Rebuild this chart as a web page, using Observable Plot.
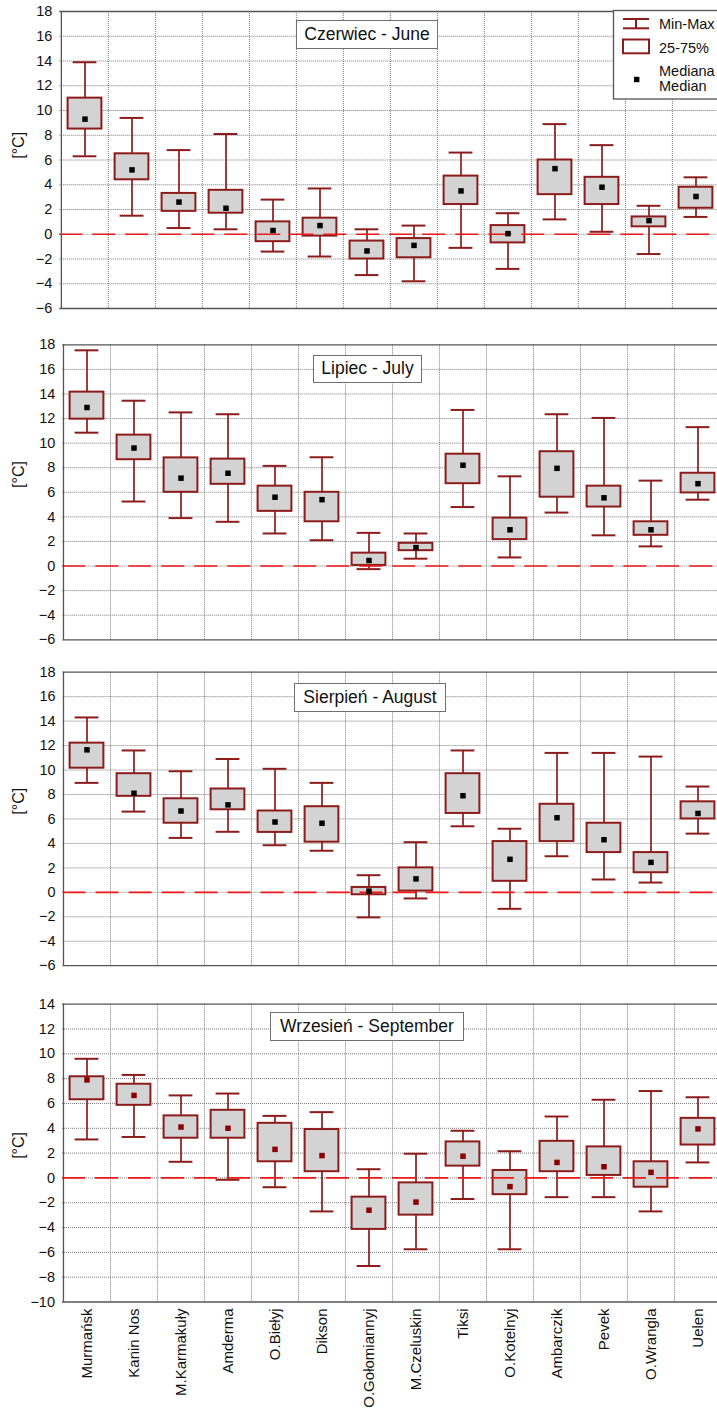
<!DOCTYPE html>
<html>
<head>
<meta charset="utf-8">
<script src="https://cdn.jsdelivr.net/npm/d3@7"></script>
<script src="https://cdn.jsdelivr.net/npm/@observablehq/plot@0.6"></script>
<style>
  html, body { margin: 0; padding: 0; background: #fff; }
  #wrap { position: relative; width: 717px; height: 1410px; overflow: hidden; font-family: "Liberation Sans", Arial, sans-serif; }
  .title { position: absolute; box-sizing: border-box; border: 1.5px solid #707070; background: #fff;
           display: flex; align-items: center; justify-content: center; font-size: 17.5px; color: #111; white-space: nowrap; }
</style>
</head>
<body>
<div id="wrap"></div>
<script>
const stations = ["Murmańsk", "Kanin Nos", "M.Karmakuły", "Amderma", "O.Biełyj", "Dikson", "O.Gołomiannyj",
  "M.Czeluskin", "Tiksi", "O.Kotelnyj", "Ambarczik", "Pevek", "O.Wrangla", "Uelen"];

// Czerwiec - June
const juneMin = [6.3, 1.5, 0.5, 0.4, -1.4, -1.8, -3.3, -3.8, -1.1, -2.8, 1.2, 0.2, -1.6, 1.4];
const juneQ1  = [8.5, 4.4, 1.85, 1.7, -0.6, -0.15, -2.0, -1.9, 2.4, -0.7, 3.2, 2.4, 0.6, 2.1];
const juneMed = [9.3, 5.2, 2.6, 2.1, 0.3, 0.7, -1.35, -0.9, 3.5, 0.05, 5.3, 3.8, 1.1, 3.05];
const juneQ3  = [11.0, 6.5, 3.3, 3.55, 1.0, 1.3, -0.55, -0.35, 4.7, 0.7, 6.0, 4.6, 1.4, 3.8];
const juneMax = [13.9, 9.4, 6.8, 8.1, 2.8, 3.7, 0.4, 0.7, 6.6, 1.7, 8.9, 7.2, 2.3, 4.6];

// Lipiec - July
const julyMin = [10.85, 5.25, 3.9, 3.6, 2.65, 2.1, -0.25, 0.6, 4.8, 0.7, 4.35, 2.5, 1.6, 5.4];
const julyQ1  = [11.95, 8.65, 6.0, 6.65, 4.45, 3.6, 0.05, 1.25, 6.7, 2.15, 5.6, 4.8, 2.5, 5.95];
const julyMed = [12.9, 9.6, 7.15, 7.55, 5.6, 5.4, 0.45, 1.5, 8.2, 2.95, 7.95, 5.55, 2.95, 6.7];
const julyQ3  = [14.15, 10.65, 8.8, 8.7, 6.5, 6.0, 1.05, 1.85, 9.1, 3.9, 9.3, 6.5, 3.6, 7.55];
const julyMax = [17.55, 13.45, 12.5, 12.35, 8.15, 8.85, 2.7, 2.65, 12.7, 7.3, 12.35, 12.05, 6.95, 11.3];

// Sierpień - August
const augMin = [8.95, 6.6, 4.45, 4.95, 3.85, 3.4, -2.05, -0.5, 5.4, -1.35, 2.95, 1.05, 0.8, 4.8];
const augQ1  = [10.15, 7.85, 5.65, 6.75, 4.9, 4.1, -0.2, 0.1, 6.45, 0.9, 4.15, 3.25, 1.6, 6.0];
const augMed = [11.65, 8.1, 6.65, 7.15, 5.75, 5.65, 0.1, 1.1, 7.9, 2.7, 6.1, 4.3, 2.45, 6.45];
const augQ3  = [12.2, 9.7, 7.65, 8.45, 6.65, 7.0, 0.4, 2.0, 9.7, 4.15, 7.2, 5.65, 3.25, 7.4];
const augMax = [14.3, 11.6, 9.9, 10.9, 10.1, 8.95, 1.4, 4.1, 11.6, 5.2, 11.4, 11.4, 11.1, 8.65];

// Wrzesień - September
const sepMin = [3.1, 3.3, 1.3, -0.15, -0.75, -2.7, -7.1, -5.75, -1.7, -5.75, -1.55, -1.55, -2.7, 1.25];
const sepQ1  = [6.3, 5.85, 3.2, 3.2, 1.3, 0.5, -4.15, -3.0, 0.95, -1.35, 0.5, 0.2, -0.75, 2.65];
const sepMed = [7.9, 6.65, 4.1, 4.0, 2.3, 1.8, -2.6, -1.95, 1.75, -0.7, 1.25, 0.9, 0.45, 3.95];
const sepQ3  = [8.15, 7.55, 5.0, 5.45, 4.4, 3.9, -1.55, -0.4, 2.9, 0.6, 2.95, 2.5, 1.3, 4.8];
const sepMax = [9.6, 8.3, 6.65, 6.8, 5.0, 5.3, 0.7, 1.95, 3.8, 2.15, 4.95, 6.3, 7.0, 6.5];

const summerTicks = [-6, -4, -2, 0, 2, 4, 6, 8, 10, 12, 14, 16, 18];
const septTicks = [-10, -8, -6, -4, -2, 0, 2, 4, 6, 8, 10, 12, 14];

const titles = ["Czerwiec - June", "Lipiec - July", "Sierpień - August", "Wrzesień - September"];
const legendLabels = ["Min-Max", "25-75%", "Mediana", "Median"];
const yLabel = "[°C]";

const RED = "#8c1c1c";

function table(mn, q1, md, q3, mx) {
  return stations.map((s, i) => ({station: s, min: mn[i], q1: q1[i], med: md[i], q3: q3[i], max: mx[i]}));
}

function panel(cfg) {
  const {rows, ticks, ml, mt, inner, mb, medColor, xAxis, labelDy} = cfg;
  const W = 717, R = 721;
  const step = (R - ml) / stations.length;
  const domain = [ticks[0], ticks[ticks.length - 1]];
  const marks = [
    Plot.ruleY(ticks.slice(1, -1), {stroke: "#7a7a7a", strokeDasharray: "1,1", strokeWidth: 1}),
    Plot.ruleX(stations.slice(1), {dx: -step / 2, stroke: "#7a7a7a", strokeDasharray: "1,1", strokeWidth: 1}),
    Plot.ruleX(rows, {x: "station", y1: "min", y2: "max", stroke: RED, strokeWidth: 1.7}),
    Plot.barY(rows, {x: "station", y1: "q1", y2: "q3", fill: "#d3d3d3", stroke: RED, strokeWidth: 2,
      insetLeft: 6.6, insetRight: 6.6}),
    Plot.tickY(rows, {x: "station", y: "min", stroke: RED, strokeWidth: 2, insetLeft: 11.6, insetRight: 11.6}),
    Plot.tickY(rows, {x: "station", y: "max", stroke: RED, strokeWidth: 2, insetLeft: 11.6, insetRight: 11.6}),
    Plot.ruleY([0], {stroke: "#f01818", strokeDasharray: "23,10", strokeWidth: 1.6}),
    Plot.dot(rows, {x: "station", y: "med", symbol: "square", r: 3.1, fill: medColor, stroke: null}),
    Plot.ruleY(domain, {stroke: "#555", strokeWidth: 1.3}),
    Plot.ruleX([stations[0]], {dx: -step / 2, stroke: "#555", strokeWidth: 1.3}),
    Plot.axisY({ticks, tickSize: 0, tickPadding: 7.5, fontSize: 14.5, label: null}),
    Plot.text([yLabel], {frameAnchor: "left", rotate: -90, dx: 18.5 - ml, dy: labelDy, fontSize: 16,
      textAnchor: "middle", fill: "#111"})
  ];
  if (xAxis) marks.push(Plot.axisX({tickRotate: -90, tickSize: 0, tickPadding: 6.5, fontSize: 15, label: null}));
  return Plot.plot({
    width: W,
    height: mt + inner + mb,
    marginTop: mt, marginBottom: mb, marginLeft: ml, marginRight: 0,
    style: {fontFamily: "Liberation Sans, Arial, sans-serif", background: "transparent", color: "#111"},
    x: {domain: stations, range: [ml, R], padding: 0, axis: xAxis ? undefined : null},
    y: {domain},
    marks
  });
}

const wrap = document.getElementById("wrap");
const panels = [
  {top: 0, rows: table(juneMin, juneQ1, juneMed, juneQ3, juneMax), ticks: summerTicks, ml: 59.3, mt: 11, inner: 297, mb: 25, medColor: "#000", labelDy: -14.7},
  {top: 333, rows: table(julyMin, julyQ1, julyMed, julyQ3, julyMax), ticks: summerTicks, ml: 62.3, mt: 11.3, inner: 295, mb: 15.7, medColor: "#000", labelDy: -17.8},
  {top: 660, rows: table(augMin, augQ1, augMed, augQ3, augMax), ticks: summerTicks, ml: 62.6, mt: 11.7, inner: 293.5, mb: 26.8, medColor: "#000", labelDy: -17.7},
  {top: 992, rows: table(sepMin, sepQ1, sepMed, sepQ3, sepMax), ticks: septTicks, ml: 62, mt: 11.7, inner: 297.8, mb: 108.5, medColor: "#8b0000", labelDy: -7.7, xAxis: true}
];
for (const p of panels) {
  const svg = panel(p);
  svg.style.position = "absolute";
  svg.style.left = "0px";
  svg.style.top = p.top + "px";
  wrap.appendChild(svg);
}

// title boxes
const titleBoxes = [[296, 20, 142, 28.5], [313, 355, 109, 27.5], [294, 683, 152, 28.5], [270, 1012, 194, 29]];
titles.forEach((t, i) => {
  const [x, y, w, h] = titleBoxes[i];
  const d = document.createElement("div");
  d.className = "title";
  d.style.left = x + "px"; d.style.top = y + "px"; d.style.width = w + "px"; d.style.height = h + "px";
  d.textContent = t;
  wrap.appendChild(d);
});

// legend (panel 1, top right)
const lg = d3.create("svg").attr("width", 717).attr("height", 110)
  .style("position", "absolute").style("left", "0px").style("top", "0px");
lg.append("rect").attr("x", 613.5).attr("y", 10.5).attr("width", 110).attr("height", 88.5)
  .attr("fill", "#fff").attr("stroke", "#555").attr("stroke-width", 1.3);
const g = lg.append("g").attr("stroke", RED).attr("stroke-width", 2).attr("fill", "none");
g.append("line").attr("x1", 623).attr("x2", 649).attr("y1", 19).attr("y2", 19);
g.append("line").attr("x1", 623).attr("x2", 649).attr("y1", 28.3).attr("y2", 28.3);
g.append("line").attr("x1", 636).attr("x2", 636).attr("y1", 19).attr("y2", 28.3);
g.append("rect").attr("x", 623).attr("y", 39.5).attr("width", 26).attr("height", 13.8).attr("fill", "#fff");
lg.append("rect").attr("x", 634).attr("y", 76.8).attr("width", 5.4).attr("height", 5.4).attr("fill", "#000");
const tg = lg.append("g").attr("font-family", "Liberation Sans, Arial, sans-serif").attr("font-size", 14.5).attr("fill", "#111");
[[legendLabels[0], 28.6], [legendLabels[1], 52.6], [legendLabels[2], 76.2], [legendLabels[3], 90.8]].forEach(([t, y]) => {
  tg.append("text").attr("x", 659).attr("y", y).text(t);
});
wrap.appendChild(lg.node());
</script>
</body>
</html>
